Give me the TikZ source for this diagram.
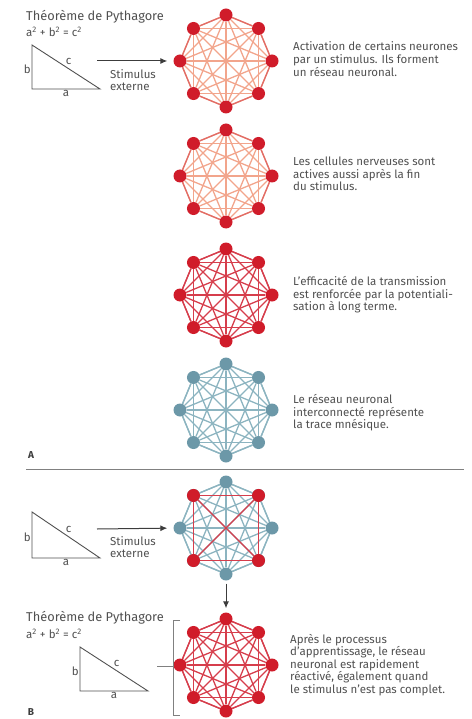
\documentclass[tikz,border=0pt]{standalone}
\usepackage{fontspec}
\setmainfont{Fira Sans}
\usetikzlibrary{positioning, arrows.meta, calc}
\definecolor{neurorouge}{RGB}{208, 28, 42}
\definecolor{lienrouge}{RGB}{214, 62, 76}
\definecolor{liensaumon}{RGB}{242, 165, 140}
\definecolor{bordsaumon}{RGB}{226, 108, 102}
\definecolor{neurobleu}{RGB}{108, 152, 168}
\definecolor{lienbleu}{RGB}{140, 180, 192}
\definecolor{textegris}{RGB}{80, 80, 80}
\definecolor{traitgris}{RGB}{60, 60, 60}

% one network of 8 neurons, all linked
\newcommand{\reseau}[5]{% name, centre, neuron colour, link colour, outer colour
  \foreach \k in {0,...,7}
    \node[neurone, fill=#3] (#1-\k) at ($(#2)+(90+45*\k:46)$) {};
  \foreach \i in {0,...,6} {
    \pgfmathtruncatemacro\jmin{\i+1}
    \foreach \j in {\jmin,...,7}
      \draw[synapse, #4] (#1-\i) -- (#1-\j);
  }
  \foreach \i [evaluate=\i as \j using {int(mod(\i+1,8))}] in {0,...,7}
    \draw[synapse, #5] (#1-\i) -- (#1-\j);
}

\tikzset{
  neurone/.style={circle, minimum size=13pt, inner sep=0pt, draw=none},
  synapse/.style={line width=1.3pt},
  legende/.style={anchor=west, align=left, text=textegris, inner sep=0pt,
                  font=\fontsize{11.5}{12.6}\selectfont},
  titre/.style={legende, font=\fontsize{12.8}{14}\selectfont},
  lettre/.style={text=traitgris, font=\bfseries\fontsize{10}{12}\selectfont},
  cote/.style={text=textegris, inner sep=1pt, font=\fontsize{11.5}{12}\selectfont},
  fleche/.style={draw=traitgris, line width=1pt, -{Latex[length=7pt, width=6pt]}},
  triangle/.style={draw=textegris, line width=0.9pt},
}

\begin{document}
\begin{tikzpicture}[x=1pt, y=-1pt]
  \useasboundingbox (0,0) rectangle (471,719);

  % ---- A ----
  \node[titre] (titreA) at (26,17) {Théorème de Pythagore};
  \node[legende] (formuleA) at (26,32) {a\textsuperscript{2} + b\textsuperscript{2} = c\textsuperscript{2}};
  \coordinate (a1) at (32,45);
  \coordinate (a2) at (32,89);
  \coordinate (a3) at (100,89);
  \draw[triangle] (a1) -- (a2) -- (a3) -- cycle;
  \node[cote, left] (bA) at ($(a1)!0.55!(a2)$) {b};
  \node[cote, below] (aA) at ($(a2)!0.5!(a3)$) {a};
  \node[cote, above right] (cA) at ($(a1)!0.48!(a3)$) {c};

  \reseau{n1}{226,61}{neurorouge}{liensaumon}{bordsaumon}
  \reseau{n2}{226,176}{neurorouge}{liensaumon}{bordsaumon}
  \reseau{n3}{226,295}{neurorouge}{lienrouge}{lienrouge}
  \reseau{n4}{226,410}{neurobleu}{lienbleu}{lienbleu}

  \coordinate (stimA) at (97,61);
  \draw[fleche, shorten >=6pt] (stimA) -- (n1-2);
  \node[legende] (stimtxtA) at (110,80) {Stimulus\\externe};

  \node[legende] (txt1) at (293,59) {Activation de certains neurones\\par un stimulus. Ils forment\\un réseau neuronal.};
  \node[legende] (txt2) at (293,174) {Les cellules nerveuses sont\\actives aussi après la fin\\du stimulus.};
  \node[legende] (txt3) at (293,295) {L’efficacité de la transmission\\est renforcée par la potentiali-\\sation à long terme.};
  \node[legende] (txt4) at (293,413) {Le réseau neuronal\\interconnecté représente\\la trace mnésique.};

  \node[lettre] (lettreA) at (31,455) {A};
  \draw[draw=gray, line width=1pt] (26,469) -- (464,469);

  % ---- B ----
  \coordinate (b1) at (32,512);
  \coordinate (b2) at (32,558);
  \coordinate (b3) at (100,558);
  \draw[triangle] (b1) -- (b2) -- (b3) -- cycle;
  \node[cote, left] (bB) at ($(b1)!0.55!(b2)$) {b};
  \node[cote, below] (aB) at ($(b2)!0.5!(b3)$) {a};
  \node[cote, above right] (cB) at ($(b1)!0.48!(b3)$) {c};

  \reseau{n5}{226,528}{neurobleu}{lienbleu}{lienbleu}
  \foreach \k in {1,3,5,7}
    \node[neurone, fill=neurorouge] at (n5-\k) {};
  \draw[synapse, lienrouge] (n5-1) -- (n5-3) -- (n5-5) -- (n5-7) -- (n5-1);
  \draw[synapse, lienrouge] (n5-1) -- (n5-5);
  \draw[synapse, lienrouge] (n5-3) -- (n5-7);

  \coordinate (stimB) at (97,529);
  \draw[fleche, shorten >=6pt] (stimB) -- (n5-2);
  \node[legende] (stimtxtB) at (110,547) {Stimulus\\externe};

  \reseau{n6}{226,665}{neurorouge}{lienrouge}{lienrouge}
  \draw[fleche, shorten <=3pt, shorten >=4pt] (n5-0) -- (n6-4);

  \node[titre] (titreB) at (26,618) {Théorème de Pythagore};
  \node[legende] (formuleB) at (26,634) {a\textsuperscript{2} + b\textsuperscript{2} = c\textsuperscript{2}};
  \coordinate (c1) at (80,647);
  \coordinate (c2) at (80,691);
  \coordinate (c3) at (148,691);
  \draw[triangle] (c1) -- (c2) -- (c3) -- cycle;
  \node[cote, left] (bC) at ($(c1)!0.55!(c2)$) {b};
  \node[cote, below] (aC) at ($(c2)!0.5!(c3)$) {a};
  \node[cote, above right] (cC) at ($(c1)!0.48!(c3)$) {c};

  % bracket
  \draw[draw=gray, line width=0.9pt] (180,620) -- (173,620) -- (173,715) -- (180,715);
  \draw[draw=gray, line width=0.9pt] (173,666) -- (157,666);

  \node[legende] (txt6) at (290,665) {Après le processus\\d’apprentissage, le réseau\\neuronal est rapidement\\réactivé, également quand\\le stimulus n’est pas complet.};

  \node[lettre] (lettreB) at (31,712) {B};
\end{tikzpicture}
\end{document}
